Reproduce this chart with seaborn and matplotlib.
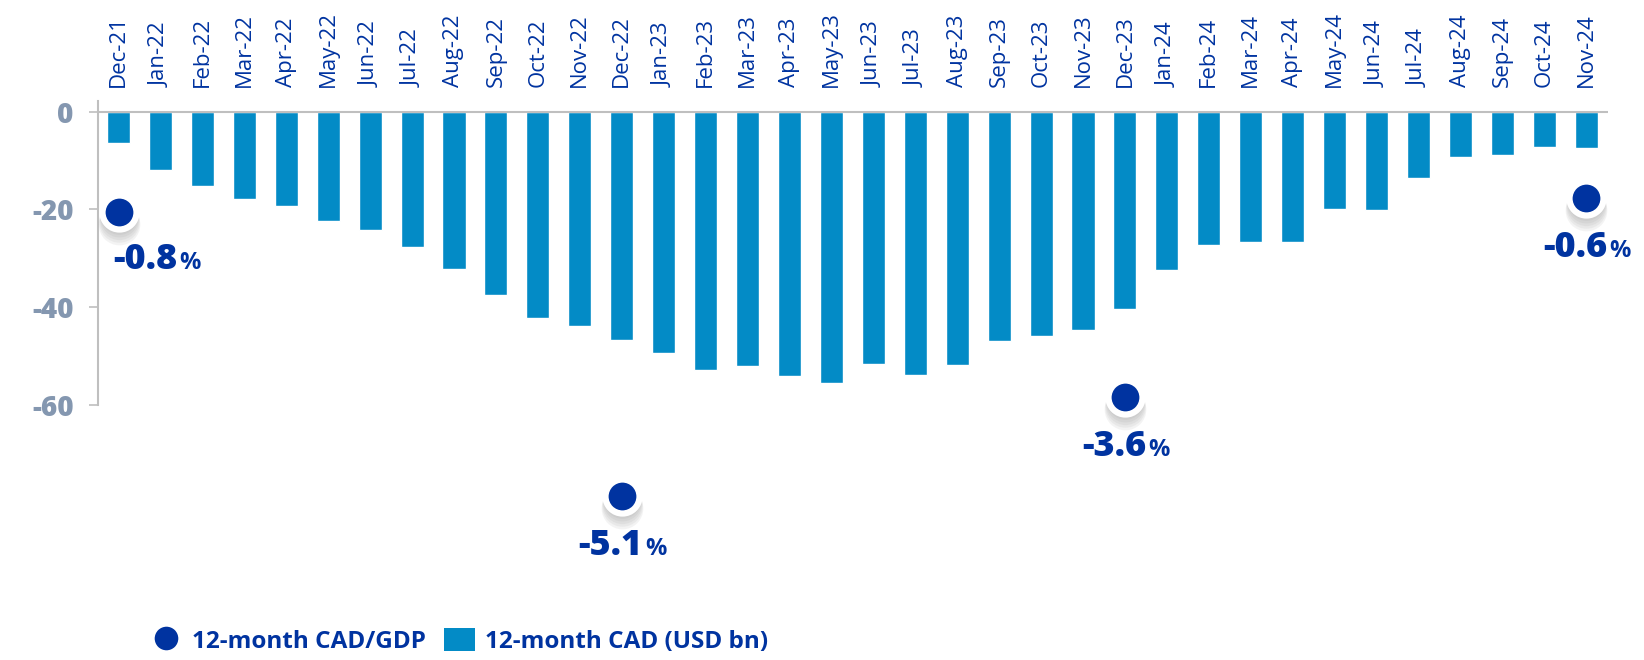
import matplotlib
matplotlib.use('Agg')
import matplotlib.pyplot as plt
from matplotlib.lines import Line2D
from matplotlib.patches import Patch
from matplotlib.transforms import offset_copy
import seaborn as sns
import pandas as pd

# 12-month current account deficit, USD bn
months = ['Dec-21', 'Jan-22', 'Feb-22', 'Mar-22', 'Apr-22', 'May-22', 'Jun-22', 'Jul-22',
          'Aug-22', 'Sep-22', 'Oct-22', 'Nov-22', 'Dec-22', 'Jan-23', 'Feb-23', 'Mar-23',
          'Apr-23', 'May-23', 'Jun-23', 'Jul-23', 'Aug-23', 'Sep-23', 'Oct-23', 'Nov-23',
          'Dec-23', 'Jan-24', 'Feb-24', 'Mar-24', 'Apr-24', 'May-24', 'Jun-24', 'Jul-24',
          'Aug-24', 'Sep-24', 'Oct-24', 'Nov-24']
cad = [-6.4, -12.0, -15.2, -17.9, -19.2, -22.3, -24.2, -27.8, -32.2, -37.5, -42.3, -44.0,
       -46.7, -49.5, -52.9, -52.1, -54.2, -55.6, -51.7, -54.0, -51.8, -46.9, -46.0, -44.7,
       -40.5, -32.5, -27.3, -26.6, -26.6, -19.9, -20.1, -13.6, -9.2, -8.9, -7.1, -7.3]

# 12-month CAD / GDP, %
gdp_months = ['Dec-21', 'Dec-22', 'Dec-23', 'Nov-24']
gdp_ratio = [-0.8, -5.1, -3.6, -0.6]

y_ticks = [0, -20, -40, -60]
y_tick_labels = ['0', '-20', '-40', '-60']

bar_color = '#038BC6'
dot_color = '#0033A0'
text_color = '#0033A0'
grey = '#BFBFBF'

sns.set_theme(style='white')
plt.rcParams['font.family'] = ['Open Sans', 'DejaVu Sans']
plt.rcParams['axes.unicode_minus'] = False

df = pd.DataFrame({'month': months, 'cad': cad})

fig = plt.figure(figsize=(16.44, 6.6), dpi=100)
ax = fig.add_axes([0.0596, 0.3871, 0.9185, 0.4603])

sns.barplot(data=df, x='month', y='cad', color=bar_color, saturation=1,
            width=0.55, ax=ax, zorder=2)
ax.axhline(0, color=grey, lw=1.5, zorder=3)
ax.set_xlim(-0.49, 35.52)
ax.set_ylim(-60, 2.3)
ax.set_xlabel('')
ax.set_ylabel('')

for side in ['top', 'right', 'bottom']:
    ax.spines[side].set_visible(False)
ax.spines['left'].set_color(grey)
ax.spines['left'].set_linewidth(1.5)

ax.xaxis.tick_top()
ax.tick_params(axis='x', length=0, pad=10, labelsize=16, labelcolor=text_color,
               labelrotation=90)
ax.set_yticks(y_ticks)
ax.set_yticklabels(y_tick_labels)
ax.tick_params(axis='y', left=True, length=6.5, width=1.2, color=grey, pad=11,
               labelsize=20, labelcolor='#8497B0')
for lbl in ax.get_yticklabels():
    lbl.set_fontweight('heavy')

# secondary (hidden) axis for the CAD/GDP dots
ax2 = fig.add_axes([0.0596, 0.1582, 0.9185, 0.6012])
ax2.set_xlim(ax.get_xlim())
ax2.set_ylim(-6, 0)
ax2.axis('off')
ax2.patch.set_alpha(0)

xs = [months.index(m) for m in gdp_months]

# soft shadow under each dot
for k in range(2, 14, 2):
    ax2.scatter(xs, gdp_ratio, s=600 + k * 25, color='#707070', alpha=0.08, lw=0,
                transform=offset_copy(ax2.transData, fig=fig, x=0, y=-k, units='dots'),
                zorder=2)

sns.scatterplot(x=xs, y=gdp_ratio, ax=ax2, s=600, color=dot_color, edgecolor='white',
                linewidth=4.5, zorder=3, legend=False)

for i, (x, v) in enumerate(zip(xs, gdp_ratio)):
    if i == 0:
        num = ax2.annotate(f'{v:.1f}', xy=(x, v), xytext=(-5, -48), textcoords='offset pixels',
                           ha='left', va='center', fontsize=26, fontweight='heavy',
                           color=text_color)
    else:
        num = ax2.annotate(f'{v:.1f}', xy=(x, v), xytext=(-11, -50), textcoords='offset pixels',
                           ha='center', va='center', fontsize=26, fontweight='heavy',
                           color=text_color)
    ax2.annotate('%', xy=(1, 0), xycoords=num, xytext=(2, 3), textcoords='offset pixels',
                 ha='left', va='bottom', fontsize=17, fontweight='bold', color=text_color)

handles = [
    Line2D([0], [0], marker='o', linestyle='none', markersize=20, markerfacecolor=dot_color,
           markeredgecolor='white', markeredgewidth=3),
    Patch(facecolor=bar_color, edgecolor='none'),
]
fig.legend(handles, ['12-month CAD/GDP', '12-month CAD (USD bn)'], loc='center left',
           bbox_to_anchor=(0.092, 0.0288), ncol=2, frameon=False, borderpad=0,
           borderaxespad=0, handlelength=1.25, handleheight=1.03, handletextpad=0.43,
           columnspacing=0.75, prop={'size': 17.5, 'weight': 'bold'}, labelcolor=text_color)

plt.savefig('out.png', dpi=100)
